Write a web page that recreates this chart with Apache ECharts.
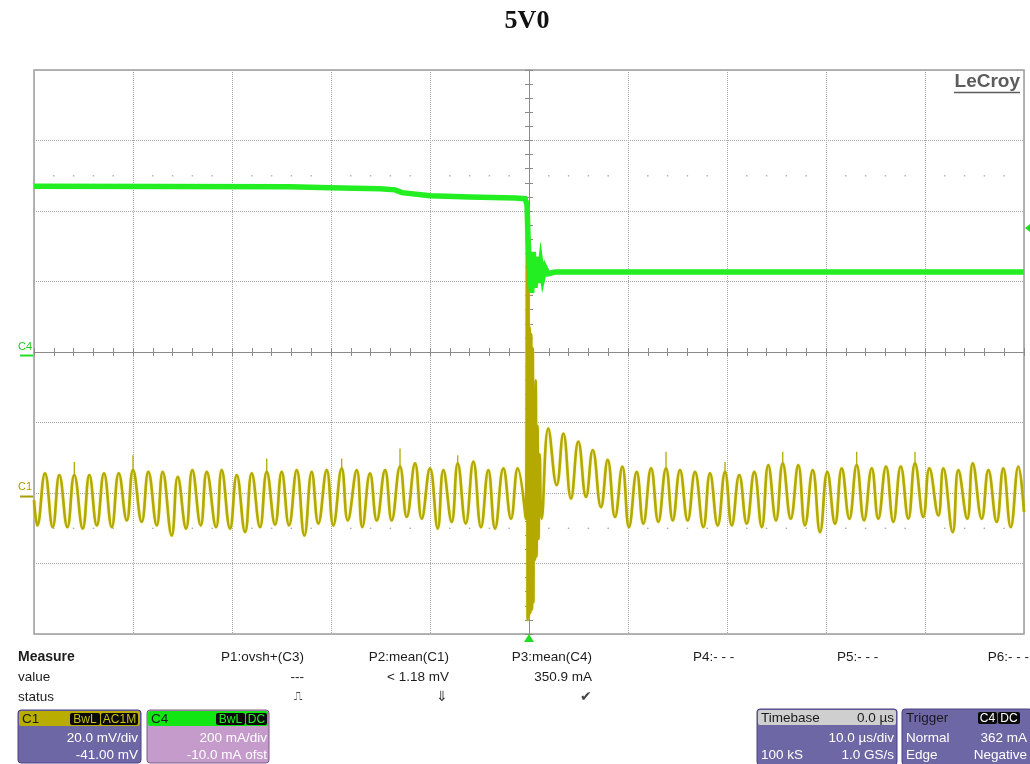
<!DOCTYPE html>
<html>
<head>
<meta charset="utf-8">
<title>5V0</title>
<script src="https://cdn.jsdelivr.net/npm/echarts@6/dist/echarts.min.js"></script>
<style>
  html, body { margin: 0; padding: 0; background: #ffffff; }
  #chart { width: 1030px; height: 764px; }
</style>
</head>
<body>
<div id="chart"></div>
<script>
// ---- scope settings ----
const TIME_MIN = -50, TIME_MAX = 50, TIME_DIV = 10;   // µs, 10 µs/div
const DIVS = 4;                                        // ±4 vertical divisions
const C1_SCALE = 20,  C1_OFFSET = -41;                 // mV/div, mV
const C4_SCALE = 200, C4_OFFSET = -10;                 // mA/div, mA
const TRIGGER_LEVEL = 362;                             // mA, C4 falling edge

// ---- C4: supply current (mA) against time (µs) ----
const c4Time    = [-50.0, -24.14, -20.1, -15.05, -13.53, -12.83, -10.00, -5.96, -1.41, -0.40,
                   -0.20, -0.10, 0.05, 0.27, 0.44, 0.61, 0.78, 0.94, 1.18, 1.39, 1.62, 1.92, 2.63, 30.0, 50.0];
const c4Current = [480, 479, 476, 473, 470, 462, 453, 450, 447, 445,
                   428, 337, 243, 178, 294, 192, 280, 206, 263, 220, 249, 232, 237, 237, 237];

// ---- C1: ripple voltage (mV), successive turning points against time (µs) ----
const c1Time = [
  -50.0, -49.66, -48.89, -48.11, -47.44, -46.63, -45.93, -45.08, -44.41, -43.66,
  -42.93, -42.15, -41.44, -40.63, -40.00, -39.12, -38.45, -37.60, -37.00, -36.09,
  -35.48, -34.64, -34.01, -33.16, -32.55, -31.61, -31.04, -30.20, -29.52, -28.68,
  -28.01, -27.17, -26.49, -25.65, -24.98, -24.24, -23.46, -22.69, -21.95, -21.28,
  -20.43, -19.77, -18.92, -18.31, -17.40, -16.84, -16.06, -15.38, -14.54, -13.87,
  -13.03, -12.35, -11.51, -10.84, -10.00, -9.22, -8.65, -7.81, -7.20, -6.39,
  -5.62, -4.85, -4.11, -3.43, -2.59, -1.82, -1.14, -0.33,
  -0.20, -0.14, -0.08, -0.02, 0.06, 0.14, 0.22, 0.30, 0.38, 0.44,
  0.52, 0.60, 0.68, 0.76, 0.86, 0.96, 1.08,
  1.28, 1.95, 2.80, 3.47, 4.24, 4.98, 5.76, 6.44, 7.27, 7.95,
  8.69, 9.43, 10.10, 10.88, 11.55, 12.33, 13.06, 13.84, 14.52, 15.25,
  16.03, 16.77, 17.61, 18.28, 19.06, 19.80, 20.48, 21.24, 21.99, 22.76,
  23.51, 24.17, 24.95, 25.63, 26.44, 27.20, 27.88, 28.66, 29.40, 30.13,
  30.91, 31.59, 32.36, 33.10, 33.84, 34.62, 35.28, 36.06, 36.80, 37.55,
  38.32, 38.99, 39.83, 40.44, 41.35, 41.85, 42.80, 43.37, 44.27, 44.82,
  45.73, 46.40, 47.24, 47.91, 48.66, 49.43, 50.00
];
const c1Voltage = [
  -1.0, -8.2, 6.6, -8.7, 6.1, -8.7, 6.1, -9.1, 6.1, -8.2,
  6.6, -8.7, 6.6, -6.8, 7.5, -7.2, 7.0, -8.2, 7.0, -11.1,
  5.6, -9.1, 7.5, -8.2, 7.0, -8.7, 7.5, -9.1, 6.1, -10.1,
  6.6, -8.7, 7.0, -8.0, 7.0, -8.2, 7.5, -11.1, 7.0, -7.7,
  7.5, -8.2, 8.0, -6.8, 7.5, -8.7, 6.6, -6.8, 7.5, -6.8,
  8.5, -5.8, 9.4, -6.3, 8.0, -9.1, 7.5, -7.2, 9.4, -7.7,
  9.9, -8.7, 7.5, -9.1, 8.0, -6.3, 8.0, -6.3,
  84, -35, 62, -34, 48, -33, 46, -32, 42, -30,
  30, -18, 33, -17, 20, -12, 12,
  -6.3, 19.3, 3.2, 17.9, -0.6, 15.6, -0.1, 13.2, -3.0, 10.4,
  -5.8, 8.5, -8.7, 7.0, -7.7, 8.0, -7.2, 8.0, -6.8, 7.5,
  -6.8, 7.0, -8.7, 6.6, -8.2, 7.0, -8.2, 6.1, -7.7, 7.0,
  -8.7, 8.9, -6.8, 9.4, -6.3, 8.9, -8.2, 7.5, -10.1, 7.0,
  -7.7, 8.0, -6.3, 8.9, -6.8, 8.0, -6.3, 8.5, -7.2, 8.5,
  -6.3, 9.4, -5.8, 8.0, -5.4, 8.0, -10.1, 7.5, -6.3, 9.4,
  -6.3, 7.5, -7.2, 8.0, -8.7, 8.5, -4.4
];

// narrow glitches riding on some C1 crests: time (µs) and tip (mV)
const c1GlitchTime = [-45.93, -40.00, -26.49, -18.92, -13.03, -7.20, 13.84, 19.80, 25.63, 33.10, 38.99];
const c1GlitchTip  = [9.8, 11.7, 10.8, 10.8, 13.6, 11.7, 12.7, 9.8, 12.7, 12.7, 12.7];

// ---- display helpers ----
const FONT = '"Liberation Sans", Arial, sans-serif';
const GRID = { left: 34, top: 70, width: 990, height: 564 };
const GREEN = '#22ee22';
const OLIVE = '#b3a900';

const c1Data = c1Time.map((t, i) => [t, c1Voltage[i]]);
const c4Data = c4Time.map((t, i) => [t, c4Current[i]]);
const glitchData = [];
c1GlitchTime.forEach((t, i) => {
  const base = c1Voltage[c1Time.indexOf(t)];
  glitchData.push([t, base], [t, c1GlitchTip[i]], [t, null]);
});

// graticule dot rows at ±2.5 div, one dot per minor step (2 µs), skipping major lines
const dotRows = [];
for (let t = TIME_MIN + 2; t < TIME_MAX; t += 2) {
  if (t % TIME_DIV === 0) continue;
  dotRows.push([t, 2.5], [t, -2.5]);
}

// centre cross-hair axis with 1/5-division ticks
function crossAxis(pos, min, max, interval) {
  return {
    type: 'value', position: pos, min: min, max: max, interval: interval,
    axisLine: { show: true, onZero: true, onZeroAxisIndex: 0, lineStyle: { color: '#8a8a8a', width: 1 } },
    axisTick: { show: true, length: 4, lineStyle: { color: '#8a8a8a', width: 1 } },
    minorTick: { show: true, splitNumber: 5, length: 4, lineStyle: { color: '#8a8a8a', width: 1 } },
    axisLabel: { show: false }, splitLine: { show: false }, minorSplitLine: { show: false }
  };
}

const gridLine = { show: true, lineStyle: { color: '#a8a8a8', type: 'dotted', width: 1 } };

const option = {
  animation: false,
  backgroundColor: '#ffffff',
  grid: Object.assign({ show: true, borderColor: '#9c9c9c', borderWidth: 1.5, backgroundColor: '#ffffff' }, GRID),
  xAxis: [
    { type: 'value', min: TIME_MIN, max: TIME_MAX, interval: TIME_DIV,
      axisLine: { show: false, onZero: false }, axisTick: { show: false }, axisLabel: { show: false },
      splitLine: gridLine },
    crossAxis('bottom', TIME_MIN, TIME_MAX, TIME_DIV),
    crossAxis('top', TIME_MIN, TIME_MAX, TIME_DIV)
  ],
  yAxis: [
    { type: 'value', min: -DIVS, max: DIVS, interval: 1,
      axisLine: { show: false, onZero: false }, axisTick: { show: false }, axisLabel: { show: false },
      splitLine: gridLine },
    crossAxis('left', -DIVS, DIVS, 1),
    crossAxis('right', -DIVS, DIVS, 1),
    // C1 in mV: div = (mV + offset) / scale
    { type: 'value', show: false, min: -DIVS * C1_SCALE - C1_OFFSET, max: DIVS * C1_SCALE - C1_OFFSET,
      axisLine: { onZero: false }, splitLine: { show: false } },
    // C4 in mA
    { type: 'value', show: false, min: -DIVS * C4_SCALE - C4_OFFSET, max: DIVS * C4_SCALE - C4_OFFSET,
      axisLine: { onZero: false }, splitLine: { show: false } }
  ],
  series: [
    { name: 'graticule', type: 'scatter', xAxisIndex: 0, yAxisIndex: 0, data: dotRows,
      symbolSize: 1.7, itemStyle: { color: '#999999' }, silent: true, z: 1 },
    { name: 'C1', type: 'line', xAxisIndex: 0, yAxisIndex: 3, data: c1Data,
      showSymbol: false, smooth: 0.45, z: 3,
      lineStyle: { color: OLIVE, width: 2.6, shadowColor: 'rgba(232,228,100,0.9)', shadowBlur: 2 } },
    { name: 'C1 glitch', type: 'line', xAxisIndex: 0, yAxisIndex: 3, data: glitchData,
      showSymbol: false, connectNulls: false, z: 3,
      lineStyle: { color: OLIVE, width: 1.3 } },
    { name: 'C4', type: 'line', xAxisIndex: 0, yAxisIndex: 4, data: c4Data,
      showSymbol: false, z: 4,
      lineStyle: { color: GREEN, width: 5.5, join: 'miter' } }
  ]
};

const chart = echarts.init(document.getElementById('chart'));
chart.setOption(option);

// ---- annotation layer ----
function text(x, y, s, o) {
  o = o || {};
  const align = o.align || 'left';
  return { type: 'text', x: x, y: y, z: 100, silent: true,
    style: { text: s, fill: o.fill || '#1c1c1c',
      font: (o.weight || 'normal') + ' ' + (o.size || 13.5) + 'px ' + (o.family || FONT),
      textAlign: align, align: align, textVerticalAlign: 'middle', verticalAlign: 'middle' } };
}
function rect(x, y, w, h, fill, r, stroke) {
  return { type: 'rect', z: 90, silent: true, shape: { x: x, y: y, width: w, height: h, r: r || 0 },
    style: { fill: fill, stroke: stroke || null, lineWidth: stroke ? 1 : 0 } };
}
function badge(x, y, w, label, color) {
  return [rect(x, y, w, 12, '#0a0a0a', 2), text(x + w / 2, y + 6.5, label, { align: 'center', fill: color, size: 12 })];
}

const g = [];

// title
g.push(text(527, 21, '5V0', { align: 'center', size: 26, weight: 'bold', family: '"Liberation Serif", "Times New Roman", serif', fill: '#111' }));

// maker logo
g.push(text(1020, 82, 'LeCroy', { align: 'right', size: 19, weight: 'bold', fill: '#5c5c5c' }));
g.push({ type: 'line', z: 100, silent: true, shape: { x1: 954, y1: 92.5, x2: 1020, y2: 92.5 }, style: { stroke: '#5c5c5c', lineWidth: 1.5 } });

// channel ground markers
const yC4 = chart.convertToPixel({ yAxisIndex: 4 }, 0);
const yC1 = chart.convertToPixel({ yAxisIndex: 3 }, 0);
g.push(text(18, yC4 - 9, 'C4', { fill: '#22cc22', size: 11 }));
g.push({ type: 'line', z: 100, silent: true, shape: { x1: 20, y1: yC4, x2: 33, y2: yC4 }, style: { stroke: '#22dd22', lineWidth: 2 } });
g.push(text(18, yC1 - 10, 'C1', { fill: '#a89e00', size: 11 }));
g.push({ type: 'line', z: 100, silent: true, shape: { x1: 20, y1: yC1, x2: 33, y2: yC1 }, style: { stroke: '#a89e00', lineWidth: 2 } });

// trigger level (right edge) and trigger instant (bottom edge)
const yTrig = chart.convertToPixel({ yAxisIndex: 4 }, TRIGGER_LEVEL);
const xTrig = chart.convertToPixel({ xAxisIndex: 0 }, 0);
g.push({ type: 'polygon', z: 100, silent: true, shape: { points: [[1025, yTrig], [1030, yTrig - 4], [1030, yTrig + 4]] }, style: { fill: '#22dd22' } });
g.push({ type: 'polygon', z: 100, silent: true, shape: { points: [[xTrig, 634], [xTrig - 5, 642], [xTrig + 5, 642]] }, style: { fill: '#22dd22' } });

// measurement table
const rowY = [657, 677, 697];
g.push(text(18, rowY[0], 'Measure', { weight: 'bold', size: 14 }));
g.push(text(18, rowY[1], 'value'));
g.push(text(18, rowY[2], 'status'));
g.push(text(304, rowY[0], 'P1:ovsh+(C3)', { align: 'right' }));
g.push(text(304, rowY[1], '---', { align: 'right' }));
g.push(text(302, rowY[2], '⎍', { align: 'right', fill: '#444', size: 12 }));
g.push(text(449, rowY[0], 'P2:mean(C1)', { align: 'right' }));
g.push(text(449, rowY[1], '< 1.18 mV', { align: 'right' }));
g.push(text(448, rowY[2], '⇓', { align: 'right', fill: '#333', size: 14 }));
g.push(text(592, rowY[0], 'P3:mean(C4)', { align: 'right' }));
g.push(text(592, rowY[1], '350.9 mA', { align: 'right' }));
g.push(text(592, rowY[2], '✔', { align: 'right', fill: '#444', size: 14 }));
g.push(text(693, rowY[0], 'P4:- - -'));
g.push(text(837, rowY[0], 'P5:- - -'));
g.push(text(1029, rowY[0], 'P6:- - -', { align: 'right' }));

// channel boxes
const PURPLE = '#6e67a5', PURPLE_EDGE = '#4a4283';
// C1
g.push(rect(18, 710, 123, 53, PURPLE, 3, PURPLE_EDGE));
g.push(rect(19, 711, 121, 15, '#b8ad00', 2));
g.push(text(22, 719, 'C1', { fill: '#1a1a1a' }));
g.push(...badge(70, 713, 30, 'BwL', '#c9bf10'));
g.push(...badge(101, 713, 37, 'AC1M', '#c9bf10'));
g.push(text(138, 738, '20.0 mV/div', { align: 'right', fill: '#ffffff' }));
g.push(text(138, 755, '-41.00 mV', { align: 'right', fill: '#ffffff' }));
// C4
g.push(rect(147, 710, 122, 53, '#c59bcc', 3, '#7d5a8a'));
g.push(rect(148, 711, 120, 15, '#12e612', 2));
g.push(text(151, 719, 'C4', { fill: '#1a1a1a' }));
g.push(...badge(216, 713, 29, 'BwL', '#22ee22'));
g.push(...badge(246, 713, 21, 'DC', '#22ee22'));
g.push(text(267, 738, '200 mA/div', { align: 'right', fill: '#ffffff' }));
g.push(text(267, 755, '-10.0 mA ofst', { align: 'right', fill: '#ffffff' }));
// Timebase
g.push(rect(757, 709, 140, 56, PURPLE, 3, PURPLE_EDGE));
g.push(rect(758, 710, 138, 15, '#cfcfcf', 2));
g.push(text(761, 718, 'Timebase', { fill: '#1a1a1a' }));
g.push(text(894, 718, '0.0 µs', { align: 'right', fill: '#1a1a1a' }));
g.push(text(894, 738, '10.0 µs/div', { align: 'right', fill: '#ffffff' }));
g.push(text(761, 755, '100 kS', { fill: '#ffffff' }));
g.push(text(894, 755, '1.0 GS/s', { align: 'right', fill: '#ffffff' }));
// Trigger
g.push(rect(902, 709, 130, 56, PURPLE, 3, PURPLE_EDGE));
g.push(text(906, 718, 'Trigger', { fill: '#1a1a1a' }));
g.push(...badge(978, 712, 19, 'C4', '#ffffff'));
g.push(...badge(998, 712, 22, 'DC', '#ffffff'));
g.push(text(906, 738, 'Normal', { fill: '#ffffff' }));
g.push(text(1027, 738, '362 mA', { align: 'right', fill: '#ffffff' }));
g.push(text(906, 755, 'Edge', { fill: '#ffffff' }));
g.push(text(1027, 755, 'Negative', { align: 'right', fill: '#ffffff' }));

chart.setOption({ graphic: { elements: g } });
</script>
</body>
</html>
